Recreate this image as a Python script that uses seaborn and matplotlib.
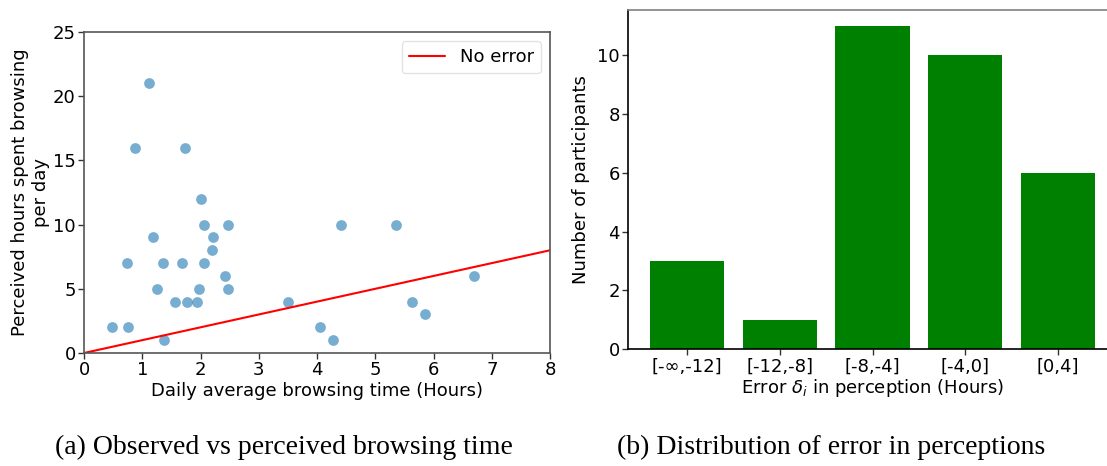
import matplotlib
matplotlib.use("Agg")
import matplotlib.pyplot as plt
import seaborn as sns
import pandas as pd

# Observed daily browsing time (hours) per participant
observed_hours = [1.12, 0.87, 1.74, 2.00, 2.06, 2.48, 4.41, 5.35, 1.18, 2.21,
                  2.20, 0.74, 1.35, 1.69, 2.06, 2.42, 6.70, 1.26, 1.98, 2.48,
                  1.57, 1.77, 1.94, 3.51, 5.63, 5.86, 0.48, 0.76, 4.05, 1.38,
                  4.27]
# Self-reported (perceived) hours per day for the same participants
perceived_hours = [21, 16, 16, 12, 10, 10, 10, 10, 9, 9,
                   8, 7, 7, 7, 7, 6, 6, 5, 5, 5,
                   4, 4, 4, 4, 4, 3, 2, 2, 2, 1,
                   1]
# Reference line where perception equals observation
no_error_x = [0, 8]
no_error_y = [0, 8]

# Histogram of perception error
error_bins = ["[-\u221e,-12]", "[-12,-8]", "[-8,-4]", "[-4,0]", "[0,4]"]
participant_counts = [3, 1, 11, 10, 6]

sns.set_style("ticks")
plt.rcParams["font.family"] = ["DejaVu Sans"]
plt.rcParams["mathtext.fontset"] = "dejavusans"
for key in ("text.color", "axes.labelcolor", "xtick.labelcolor", "ytick.labelcolor"):
    plt.rcParams[key] = "black"
plt.rcParams["xtick.color"] = "#333333"
plt.rcParams["ytick.color"] = "#333333"

W, H = 1107, 466
fig = plt.figure(figsize=(W / 100, H / 100), dpi=100)

tick_fs = 13
label_fs = 13

# ---- Scatter: observed vs perceived ----
ax1 = fig.add_axes([84 / W, (H - 353) / H, (550 - 84) / W, 321 / H])
scatter_df = pd.DataFrame({"observed": observed_hours, "perceived": perceived_hours})
sns.scatterplot(data=scatter_df, x="observed", y="perceived", ax=ax1,
                color="#1f77b4", alpha=0.6, s=60, linewidth=0)
line_df = pd.DataFrame({"x": no_error_x, "y": no_error_y})
sns.lineplot(data=line_df, x="x", y="y", ax=ax1, color="red", linewidth=1.5,
             label="No error")
ax1.set_xlim(0, 8)
ax1.set_ylim(0, 25)
ax1.set_xticks(range(0, 9))
ax1.set_yticks(range(0, 26, 5))
ax1.set_xlabel("Daily average browsing time (Hours)", fontsize=label_fs, labelpad=2)
ax1.set_ylabel("Perceived hours spent browsing\nper day", fontsize=label_fs, labelpad=2)
ax1.tick_params(labelsize=tick_fs, length=4, width=1, pad=2)
for sp in ax1.spines.values():
    sp.set_visible(True)
    sp.set_color("#555555")
    sp.set_linewidth(1.2)
leg = ax1.legend(loc="upper right", fontsize=13, frameon=True, handlelength=2.0)
leg.get_frame().set_edgecolor("#dddddd")

# ---- Bars: distribution of perception error ----
ax2 = fig.add_axes([628 / W, (H - 349) / H, (1117 - 628) / W, (349 - 10) / H])
bar_df = pd.DataFrame({"bin": error_bins, "count": participant_counts})
sns.barplot(data=bar_df, x="bin", y="count", ax=ax2, color="green",
            saturation=1, width=0.8, linewidth=0)
ax2.set_xlim(-0.64, len(error_bins) - 1 + 0.64)
ax2.set_ylim(0, 11.55)
ax2.set_yticks([0, 2, 4, 6, 8, 10])
ax2.set_xlabel(r"Error $\delta_i$ in perception (Hours)", fontsize=label_fs, labelpad=1)
ax2.set_ylabel("Number of participants", fontsize=label_fs, labelpad=5)
ax2.tick_params(labelsize=tick_fs, length=4, width=1, pad=2)
for name, sp in ax2.spines.items():
    sp.set_visible(True)
    sp.set_linewidth(1.2)
    sp.set_color("black" if name in ("left", "bottom") else "#808080")

# ---- Sub-figure captions ----
cap_font = dict(family="Liberation Serif", fontsize=20, ha="center", va="center")
fig.text(284 / W, (H - 447) / H, "(a) Observed vs perceived browsing time", **cap_font)
fig.text(831 / W, (H - 447) / H, "(b) Distribution of error in perceptions", **cap_font)

fig.savefig("out.png", dpi=100)
